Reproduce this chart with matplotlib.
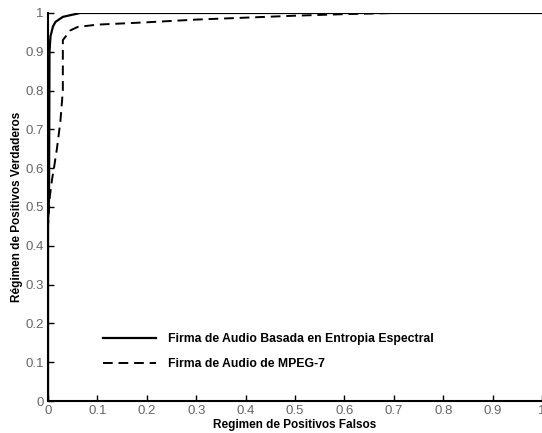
import matplotlib.pyplot as plt

# curva ROC - firma basada en entropia espectral
fpr_ent = [0, 0, 0.002, 0.003, 0.005, 0.01, 0.015, 0.03, 0.065, 1.0]
tpr_ent = [0, 0.46, 0.52, 0.90, 0.94, 0.965, 0.977, 0.99, 1.0, 1.0]

# curva ROC - firma MPEG-7
fpr_mpeg = [0, 0, 0.003, 0.008, 0.012, 0.018, 0.025, 0.03, 0.03, 0.045, 0.06, 0.1, 0.2, 0.3, 0.4, 0.5, 0.6, 0.7, 1.0]
tpr_mpeg = [0, 0.45, 0.52, 0.57, 0.60, 0.65, 0.72, 0.80, 0.93, 0.955, 0.964, 0.97, 0.976, 0.983, 0.988, 0.993, 0.997, 1.0, 1.0]

ticks = [0, 0.1, 0.2, 0.3, 0.4, 0.5, 0.6, 0.7, 0.8, 0.9, 1]
tick_labels = ['0', '0.1', '0.2', '0.3', '0.4', '0.5', '0.6', '0.7', '0.8', '0.9', '1']

plt.rcParams['font.family'] = ['Liberation Sans', 'DejaVu Sans']

fig = plt.figure(figsize=(5.42, 4.33), dpi=100)
ax = fig.add_axes([0.0886, 0.0739, 0.9114, 0.8961])

ax.plot(fpr_ent, tpr_ent, color='black', lw=1.6, label='Firma de Audio Basada en Entropia Espectral')
ax.plot(fpr_mpeg, tpr_mpeg, color='black', lw=1.4, ls=(0, (5, 3)), label='Firma de Audio de MPEG-7')

ax.set_xlim(0, 1)
ax.set_ylim(0, 1)
ax.set_xticks(ticks)
ax.set_xticklabels(tick_labels)
ax.set_yticks(ticks)
ax.set_yticklabels(tick_labels)
ax.tick_params(direction='in', length=4, width=1, colors='black', labelcolor='#666666', labelsize=9.5, pad=3)

for s in ['top', 'right']:
    ax.spines[s].set_visible(False)
for s in ['left', 'bottom']:
    ax.spines[s].set_linewidth(1.5)

ax.set_xlabel('Regimen de Positivos Falsos', fontsize=8.5, fontweight='bold', labelpad=1)
ax.set_ylabel('Régimen de Positivos Verdaderos', fontsize=8.5, fontweight='bold', labelpad=2)

ax.legend(loc='lower left', bbox_to_anchor=(0.09, 0.052), frameon=False,
          handlelength=4.3, handletextpad=1.0, labelspacing=1.05, prop={'weight': 'bold', 'size': 8.8})

fig.savefig('out.png', dpi=100)
